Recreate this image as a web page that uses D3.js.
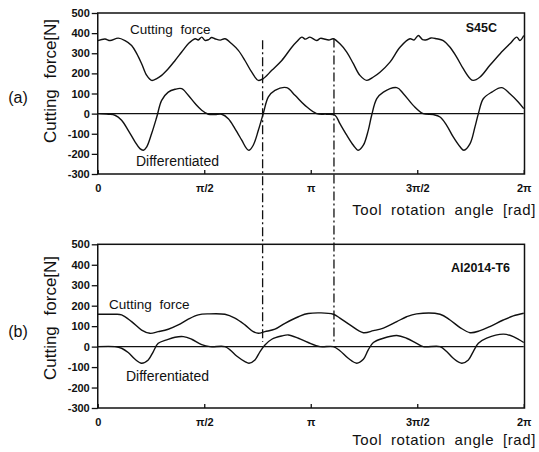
<!DOCTYPE html>
<html>
<head>
<meta charset="utf-8">
<script src="https://cdn.jsdelivr.net/npm/d3@7/dist/d3.min.js"></script>
<style>
  html, body { margin: 0; padding: 0; background: #fff; }
  svg { display: block; }
  text { font-family: "Liberation Sans", Arial, sans-serif; fill: #111; }
</style>
</head>
<body>
<svg id="chart" width="539" height="452"></svg>
<script>
// ---- Data (angles in units of π rad, forces in N) ----
const angleTicks = [0, 0.5, 1, 1.5, 2];
const angleTickLabels = ["0", "π/2", "π", "3π/2", "2π"];
const forceTicks = [500, 400, 300, 200, 100, 0, -100, -200, -300];
const forceTickLabels = ["500", "400", "300", "200", "100", "0", "-100", "-200", "-300"];

// (a) S45C
const s45cForceAngle = [0, 0.034, 0.058, 0.096, 0.128, 0.159, 0.183, 0.206, 0.230, 0.253, 0.277, 0.300, 0.331, 0.363, 0.394, 0.425, 0.457, 0.472, 0.488, 0.503, 0.519, 0.535, 0.550, 0.575, 0.597, 0.629, 0.660, 0.691, 0.723, 0.754, 0.777, 0.817, 0.864, 0.911, 0.935, 0.958, 0.975, 0.996, 1.028, 1.045, 1.059, 1.085, 1.106, 1.137, 1.169, 1.200, 1.231, 1.263, 1.294, 1.325, 1.372, 1.419, 1.466, 1.485, 1.505, 1.525, 1.544, 1.565, 1.591, 1.622, 1.654, 1.685, 1.716, 1.748, 1.763, 1.795, 1.841, 1.889, 1.935, 1.967, 1.982, 2.0];
const s45cForce = [363, 371, 363, 375, 363, 339, 298, 248, 190, 165, 174, 190, 223, 264, 306, 347, 372, 366, 380, 364, 367, 378, 372, 365, 372, 347, 314, 264, 206, 165, 174, 215, 264, 330, 358, 380, 370, 380, 363, 374, 372, 366, 372, 347, 306, 248, 190, 165, 182, 206, 256, 330, 372, 366, 388, 368, 367, 376, 372, 363, 330, 281, 223, 174, 165, 182, 240, 298, 347, 380, 363, 388];

const s45cDiffAngle = [0, 0.050, 0.081, 0.112, 0.143, 0.175, 0.198, 0.214, 0.230, 0.253, 0.277, 0.300, 0.331, 0.363, 0.394, 0.425, 0.457, 0.488, 0.519, 0.550, 0.582, 0.613, 0.644, 0.676, 0.699, 0.710, 0.730, 0.754, 0.777, 0.801, 0.832, 0.887, 0.926, 0.973, 1.028, 1.075, 1.114, 1.137, 1.169, 1.200, 1.223, 1.247, 1.270, 1.286, 1.310, 1.341, 1.404, 1.435, 1.481, 1.528, 1.575, 1.607, 1.638, 1.669, 1.701, 1.719, 1.748, 1.771, 1.787, 1.810, 1.850, 1.896, 1.935, 1.974, 2.0];
const s45cDiff = [0, -3, -8, -33, -83, -140, -174, -182, -165, -99, -17, 66, 107, 121, 124, 91, 50, 17, -3, -5, -3, -25, -74, -132, -174, -182, -157, -83, 0, 83, 116, 129, 91, 41, 0, -3, -8, -50, -107, -157, -182, -157, -83, -8, 74, 107, 129, 99, 41, 0, -5, -17, -58, -116, -165, -182, -149, -66, 0, 74, 107, 129, 99, 58, 25];

// (b) Al2014-T6
const alForceAngle = [0, 0.081, 0.112, 0.159, 0.206, 0.245, 0.284, 0.331, 0.378, 0.425, 0.472, 0.519, 0.597, 0.644, 0.691, 0.730, 0.754, 0.785, 0.832, 0.879, 0.942, 0.988, 1.106, 1.137, 1.184, 1.247, 1.294, 1.341, 1.404, 1.450, 1.497, 1.607, 1.654, 1.701, 1.748, 1.795, 1.841, 1.904, 1.951, 2.0];
const alForce = [158, 158, 155, 122, 81, 65, 73, 85, 106, 134, 155, 160, 158, 139, 106, 73, 65, 73, 85, 114, 146, 162, 158, 139, 106, 68, 78, 90, 122, 146, 160, 158, 130, 93, 68, 78, 98, 130, 150, 163];

const alDiffAngle = [0, 0.081, 0.112, 0.143, 0.175, 0.206, 0.237, 0.261, 0.284, 0.324, 0.363, 0.402, 0.441, 0.488, 0.527, 0.597, 0.621, 0.652, 0.691, 0.710, 0.738, 0.762, 0.785, 0.817, 0.864, 0.895, 0.942, 0.988, 1.043, 1.106, 1.137, 1.176, 1.216, 1.247, 1.270, 1.294, 1.341, 1.404, 1.450, 1.497, 1.528, 1.607, 1.638, 1.669, 1.709, 1.740, 1.763, 1.787, 1.826, 1.904, 1.951, 2.0];
const alDiff = [0, 0, -8, -29, -62, -81, -65, -24, 16, 33, 46, 49, 36, 10, 0, 0, -16, -46, -73, -81, -65, -24, 8, 36, 52, 57, 41, 20, 0, 0, -20, -57, -81, -62, -16, 20, 41, 54, 41, 16, 0, 0, -24, -57, -81, -65, -24, 16, 41, 61, 49, 20];

// vertical dash-dot reference lines (angle in π units; top end on (a) scale, bottom end on (b) scale)
const markerAngle = [0.774, 1.109];
const markerTopForce = [365, 373];
const markerBottomForce = [23, 23];

// ---- Layout ----
const svg = d3.select("#chart");
const x = d3.scaleLinear().domain([0, 2]).range([97.75, 523.75]);
const yA = d3.scaleLinear().domain([-300, 500]).range([174, 13]);
const yB = d3.scaleLinear().domain([-300, 500]).range([408, 244.3]);

function panel(y, forceA, forceV, diffA, diffV, opts) {
  const g = svg.append("g");
  const [x0, x1] = x.range();
  const [yb, yt] = y.range();

  // frame
  g.append("rect").attr("x", x0).attr("y", yt).attr("width", x1 - x0 + 0.75).attr("height", yb - yt)
    .attr("fill", "none").attr("stroke", "#111").attr("stroke-width", 1.5);

  // y axis ticks & labels
  const yAxis = d3.axisLeft(y).tickValues(forceTicks)
    .tickFormat((d, i) => forceTickLabels[i]).tickSize(6).tickPadding(2);
  const ya = g.append("g").attr("transform", `translate(${x0},0)`).call(yAxis);
  ya.select(".domain").remove();
  ya.selectAll("line").attr("stroke", "#111").attr("stroke-width", 1.3);
  ya.selectAll("text").style("font-family", "'Liberation Sans', Arial, sans-serif")
    .style("font-size", "11px").style("font-weight", "bold").attr("fill", "#111");

  // x axis ticks (inward) & labels
  const xAxis = d3.axisBottom(x).tickValues(angleTicks)
    .tickFormat((d, i) => angleTickLabels[i]).tickSizeInner(-4).tickSizeOuter(0).tickPadding(10);
  const xa = g.append("g").attr("transform", `translate(0,${yb})`).call(xAxis);
  xa.select(".domain").remove();
  xa.selectAll("line").attr("stroke", "#111").attr("stroke-width", 1.3);
  xa.selectAll("text").style("font-family", "'Liberation Sans', Arial, sans-serif")
    .style("font-size", "11px").style("font-weight", "bold").attr("fill", "#111");

  // zero line
  g.append("line").attr("x1", x0).attr("x2", x1).attr("y1", y(0)).attr("y2", y(0))
    .attr("stroke", "#111").attr("stroke-width", 1.2);

  const line = d3.line().x(d => x(d[0])).y(d => y(d[1])).curve(d3.curveCatmullRom.alpha(0.5));
  g.append("path").datum(forceA.map((a, i) => [a, forceV[i]]))
    .attr("d", line).attr("fill", "none").attr("stroke", "#111").attr("stroke-width", 1.4);
  g.append("path").datum(diffA.map((a, i) => [a, diffV[i]]))
    .attr("d", line).attr("fill", "none").attr("stroke", "#111").attr("stroke-width", 1.4);

  // annotations
  const t = (tx, ty, s, size, anchor) => g.append("text").attr("x", tx).attr("y", ty).text(s)
      .style("font-size", size + "px").attr("text-anchor", anchor || "start");
  t(opts.cfX, opts.cfY, "Cutting force", 13.5).style("word-spacing", "4px");
  t(opts.dfX, opts.dfY, "Differentiated", 14);
  t(opts.matX, opts.matY, opts.mat, 12.5, "end").style("font-weight", "bold");
  t(18, opts.tagY, opts.tag, 16, "middle");
  t(0, 0, "Cutting force[N]", 17, "middle")
    .style("word-spacing", "6px")
    .attr("transform", `translate(56,${opts.ylabY}) rotate(-90)`);
  t(536, opts.xlabY, "Tool rotation angle [rad]", 15, "end")
    .style("letter-spacing", "0.6px").style("word-spacing", "4px");
}

panel(yA, s45cForceAngle, s45cForce, s45cDiffAngle, s45cDiff, {
  cfX: 130, cfY: 34, dfX: 136, dfY: 166, mat: "S45C", matX: 497, matY: 32,
  tag: "(a)", tagY: 103, ylabY: 81, xlabY: 215
});
panel(yB, alForceAngle, alForce, alDiffAngle, alDiff, {
  cfX: 109, cfY: 309, dfX: 126, dfY: 381, mat: "Al2014-T6", matX: 510, matY: 272,
  tag: "(b)", tagY: 337, ylabY: 318, xlabY: 445
});

// dash-dot reference lines spanning both panels
svg.append("g").selectAll("line").data(markerAngle).join("line")
  .attr("x1", d => x(d)).attr("x2", d => x(d))
  .attr("y1", (d, i) => yA(markerTopForce[i]))
  .attr("y2", (d, i) => yB(markerBottomForce[i]))
  .attr("stroke", "#111").attr("stroke-width", 1.3)
  .attr("stroke-dasharray", "9,3,2,3");
</script>
</body>
</html>
